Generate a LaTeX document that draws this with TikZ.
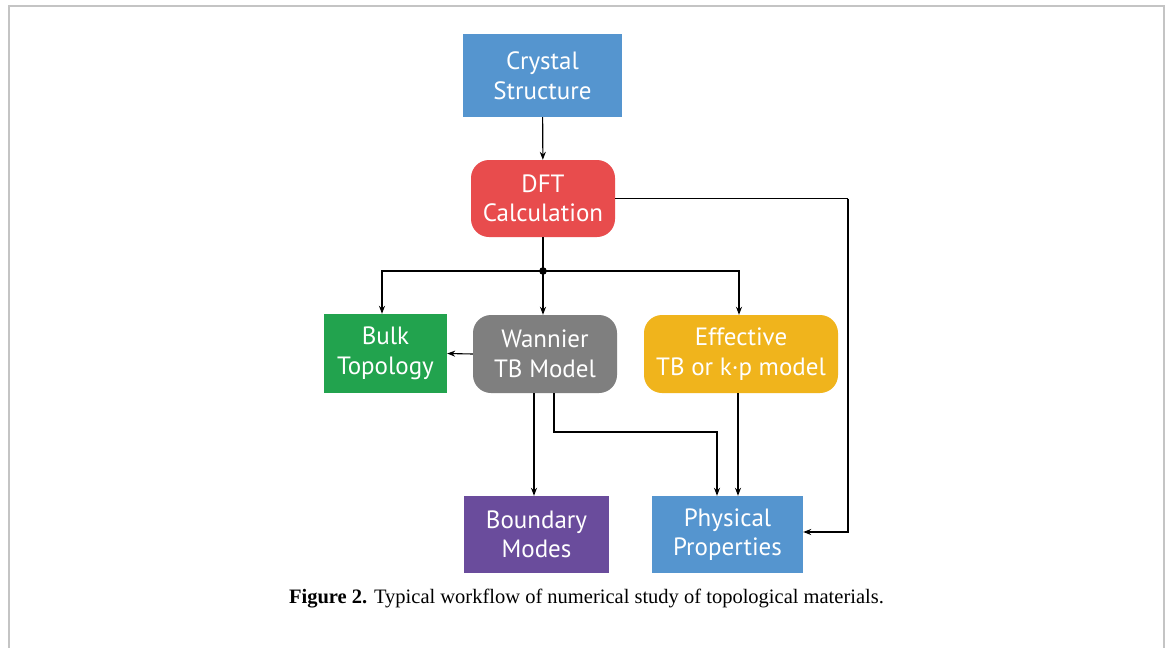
\documentclass[tikz,border=0pt]{standalone}
\usepackage{fontspec}
\setmainfont{Liberation Serif}
\newfontfamily\boxfont{PT Sans}
\usetikzlibrary{arrows.meta,calc}
\definecolor{cblue}{HTML}{5595CF}
\definecolor{cred}{HTML}{E84C4D}
\definecolor{cgreen}{HTML}{22A34E}
\definecolor{cgray}{HTML}{7F7F7F}
\definecolor{cyellow}{HTML}{F0B41C}
\definecolor{cpurple}{HTML}{6A4C9C}
\definecolor{cframe}{HTML}{C4C4C4}
\begin{document}
\begin{tikzpicture}[x=1pt,y=-1pt,
  box/.style={inner sep=0pt,align=center,text=white,
    font=\boxfont\fontsize{25}{29.5}\selectfont},
  sq/.style={box,rectangle},
  rnd/.style={box,rectangle,rounded corners=18pt},
  conn/.style={line width=1.1pt,-{Stealth[length=8pt,width=6pt]}},
  plain/.style={line width=1.1pt}]
\useasboundingbox (0,0) rectangle (1171,648);
\fill[white] (0,0) rectangle (1171,648);
\draw[cframe,line width=2pt] (9,648) -- (9,6) -- (1164,6) -- (1164,648);

\node[sq,fill=cblue,minimum width=159pt,minimum height=83pt] (crys) at (542.5,75.5) {Crystal\\Structure};
\node[rnd,fill=cred,minimum width=144pt,minimum height=77pt] (dft) at (543,198.5) {DFT\\Calculation};
\node[sq,fill=cgreen,minimum width=123pt,minimum height=79pt] (bulk) at (385.5,353.5) {Bulk\\Topology};
\node[rnd,fill=cgray,minimum width=144pt,minimum height=78pt] (wan) at (545,354) {Wannier\\TB Model};
\node[rnd,fill=cyellow,minimum width=194pt,minimum height=78pt] (eff) at (741,354) {Effective\\TB or k·p model};
\node[sq,fill=cpurple,minimum width=145pt,minimum height=77pt] (bound) at (536.5,534.5) {Boundary\\Modes};
\node[sq,fill=cblue,minimum width=151pt,minimum height=77pt] (phys) at (727.5,534.5) {Physical\\Properties};

\coordinate (j) at (543,271);
\coordinate (rc) at (848,198.5);
\coordinate (wb) at (554,432);

\draw[conn] (crys) -- (dft);
\draw[plain] (dft.south) -- (j);
\fill (j) circle (3.8pt);
\draw[conn] (j) -| ([xshift=-3.5pt]bulk.north);
\draw[conn] (j) -- (j |- wan.north);
\draw[conn] (j) -| ([xshift=-2pt]eff.north);
\draw[conn] (wan.west) -- (bulk.east);
\draw[conn] ([xshift=-11pt]wan.south) -- ([xshift=-11pt]wan.south |- bound.north);
\draw[conn] ([xshift=9pt]wan.south) |- (wb) -| ([xshift=-10.5pt]phys.north);
\draw[conn] ([xshift=-3pt]eff.south) -- ([xshift=-3pt]eff.south |- phys.north);
\draw[plain] (dft.east) -- (rc);
\draw[conn] (rc) |- ([yshift=2.5pt]phys.east);

\node[font=\fontsize{20.5}{24}\selectfont,anchor=base] (cap) at (586.5,603) {\textbf{Figure 2.} Typical workflow of numerical study of topological materials.};
\end{tikzpicture}
\end{document}
